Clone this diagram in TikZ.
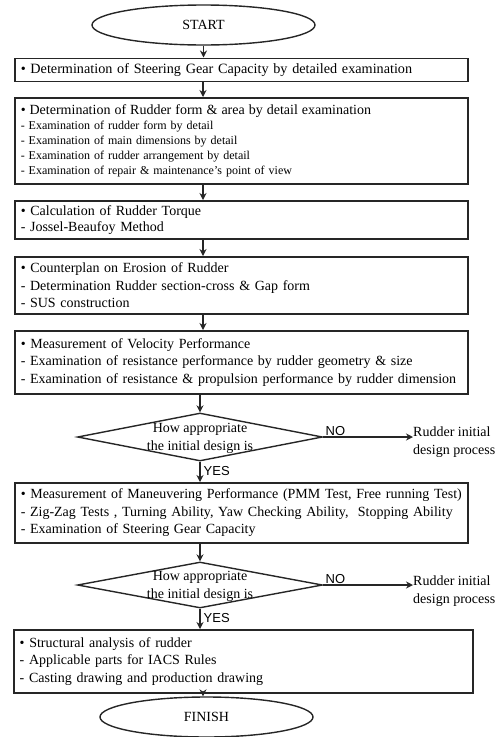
\documentclass[tikz,border=0pt]{standalone}
\usepackage{fontspec}
\setmainfont{Liberation Serif}
\newfontfamily\labelfont{Liberation Sans}
\usetikzlibrary{shapes.geometric,arrows.meta}

\tikzset{
  stepbox/.style={draw=black!85, line width=1.5pt, rectangle, align=left,
    inner xsep=6pt, inner ysep=0pt, anchor=north west,
    minimum width=453pt, text width=441pt},
  terminal/.style={draw=black!85, line width=1.4pt, ellipse, inner sep=0pt,
    font=\fontsize{14}{16}\selectfont},
  decision/.style={draw=black!85, line width=1.4pt, diamond, inner sep=0pt,
    minimum width=245pt},
  question/.style={align=center, inner sep=0pt, font=\fontsize{14}{18}\selectfont},
  flow/.style={draw=black!85, line width=1.4pt, -{Stealth[length=7pt,width=7pt]}},
  yesno/.style={font=\labelfont\fontsize{13}{14}\selectfont, inner sep=0pt},
  outlabel/.style={align=left, anchor=north west, inner sep=0pt,
    font=\fontsize{14}{17.5}\selectfont},
  big/.style={font=\fontsize{14}{17.5}\selectfont},
}

\begin{document}
\begin{tikzpicture}[x=1pt,y=-1pt]
\useasboundingbox (0,0) rectangle (502,737);

% start / finish
\node[terminal, minimum width=223pt, minimum height=40pt] (start) at (203.5,25) {START};

% process boxes
\node[stepbox, minimum height=23pt, font=\fontsize{14.2}{17}\selectfont] (b1) at (14,57.5)
  {\textbullet\ Determination of Steering Gear Capacity by detailed examination};

\node[stepbox, minimum height=86pt, font=\fontsize{12}{15.2}\selectfont] (b2) at (14,97)
  {{\fontsize{14}{15.2}\selectfont \textbullet\ Determination of Rudder form \& area by detail examination}\\
   - Examination of rudder form by detail\\
   - Examination of main dimensions by detail\\
   - Examination of rudder arrangement by detail\\
   - Examination of repair \& maintenance's point of view};

\node[stepbox, minimum height=38pt, font=\fontsize{14}{16}\selectfont] (b3) at (14,200)
  {\textbullet\ Calculation of Rudder Torque\\
   - Jossel-Beaufoy Method};

\node[stepbox, minimum height=57pt, big] (b4) at (14,256)
  {\textbullet\ Counterplan on Erosion of Rudder\\
   - Determination Rudder section-cross \& Gap form\\
   - SUS construction};

\node[stepbox, minimum height=63pt, big] (b5) at (14,330)
  {\textbullet\ Measurement of Velocity Performance\\
   \mbox{- Examination of resistance performance by rudder geometry \& size}\\
   \mbox{- Examination of resistance \& propulsion performance by rudder dimension}};

% first check
\node[decision, minimum height=48pt] (d1) at (200,437) {};
\node[question] (q1) at (200,438.5) {How appropriate\\the initial design is};

\node[stepbox, minimum height=60pt, big] (b6) at (14,482)
  {\mbox{\textbullet\ Measurement of Maneuvering Performance (PMM Test, Free running Test)}\\
   \mbox{- Zig-Zag Tests , Turning Ability, Yaw Checking Ability,\ \ Stopping Ability}\\
   - Examination of Steering Gear Capacity};

% second check
\node[decision, minimum height=46pt] (d2) at (200,585) {};
\node[question] (q2) at (200,586) {How appropriate\\the initial design is};

\node[stepbox, minimum width=459pt, text width=447pt, minimum height=63pt, big] (b7) at (13,629)
  {\textbullet\ Structural analysis of rudder\\
   - Applicable parts for IACS Rules\\
   - Casting drawing and production drawing};

\node[terminal, minimum width=213pt, minimum height=40pt] (finish) at (206.5,717) {FINISH};

% side outcomes
\node[outlabel] (r1) at (413,427) {Rudder initial\\design process};
\node[outlabel] (r2) at (413,576) {Rudder initial\\design process};

% main flow
\coordinate (ax) at (203,0);
\draw[flow] (start.south) -- (b1.north -| start.south);
\draw[flow] (b1.south -| ax) -- (b2.north -| ax);
\draw[flow] (b2.south -| ax) -- (b3.north -| ax);
\draw[flow] (b3.south -| ax) -- (b4.north -| ax);
\draw[flow] (b4.south -| ax) -- (b5.north -| ax);
\draw[flow] (b5.south -| d1.north) -- (d1.north);
\draw[flow] (d1.south) -- (b6.north -| d1.south) node[yesno, pos=0.45, anchor=west, xshift=3pt] (y1) {YES};
\draw[flow] (b6.south -| d2.north) -- (d2.north);
\draw[flow] (d2.south) -- (b7.north -| d2.south) node[yesno, pos=0.45, anchor=west, xshift=3pt] (y2) {YES};
\draw[flow] (b7.south -| ax) -- (finish.north -| ax);

% rejection branches
\draw[flow] (d1.east) -- (d1.east -| r1.west) node[yesno, pos=0.02, anchor=south west, yshift=0.5pt] (n1) {NO};
\draw[flow] (d2.east) -- (d2.east -| r2.west) node[yesno, pos=0.02, anchor=south west, yshift=0.5pt] (n2) {NO};
\end{tikzpicture}
\end{document}
